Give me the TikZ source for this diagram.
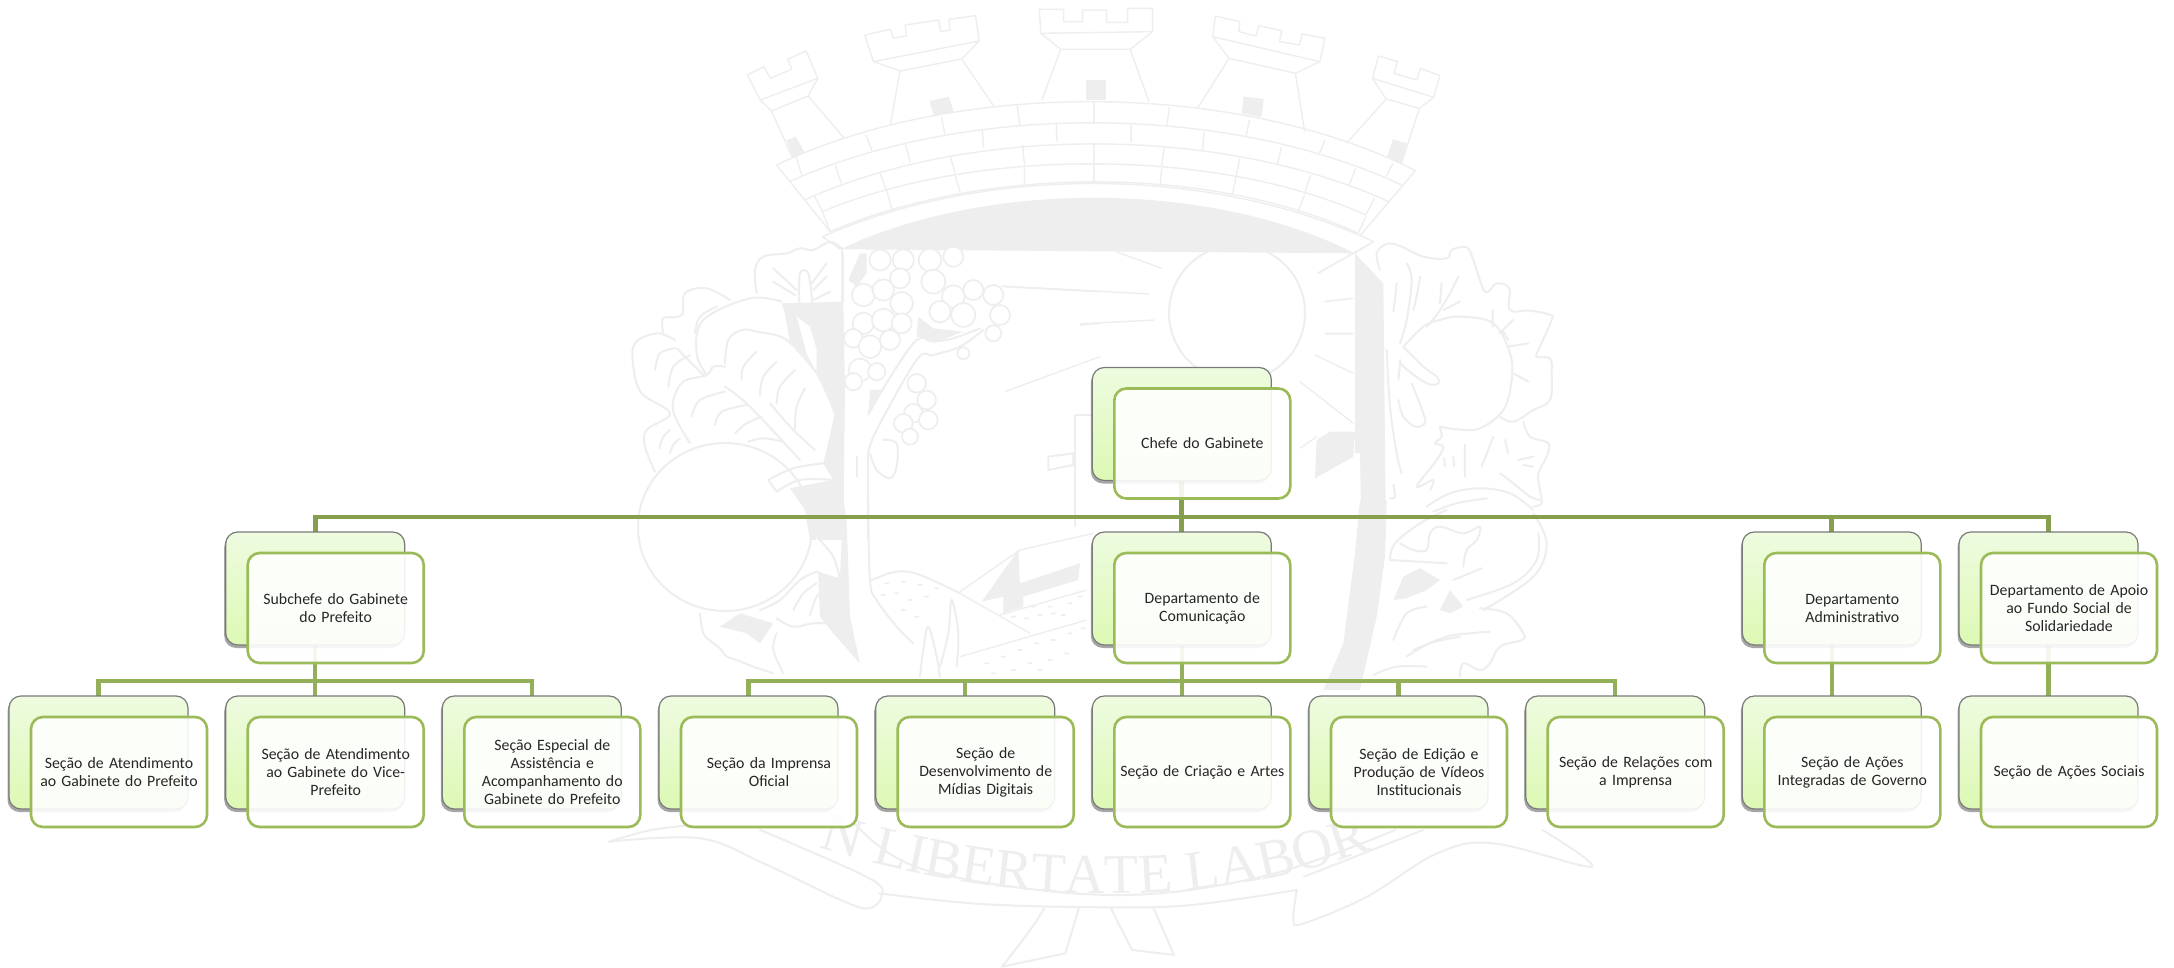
\documentclass[tikz,border=0pt]{standalone}
\usepackage{fontspec}
\setmainfont{Carlito}
\newfontfamily\wmfont{Liberation Serif}
\usetikzlibrary{shadows,decorations.text}
\definecolor{wm}{HTML}{EEEEEE}
\definecolor{busa}{HTML}{859F4D}
\definecolor{busb}{HTML}{93AF5A}
\definecolor{frameg}{HTML}{9BBB59}
\definecolor{backtop}{HTML}{EEFBE0}
\definecolor{backbot}{HTML}{DDF9B4}
\pgfdeclarelayer{wmlayer}
\pgfdeclarelayer{connlayer}
\pgfsetlayers{wmlayer,connlayer,main}
\tikzset{
  wml/.style={draw=wm,line width=2pt,line join=round,line cap=round},
  wmt/.style={draw=wm,line width=1.4pt,line join=round},
  wmf/.style={fill=wm,draw=none},
  sm/.style={smooth,tension=.6},
  backbox/.style={rectangle,rounded corners=12pt,minimum width=179pt,minimum height=113pt,
    draw=black!52,line width=1.2pt,top color=backtop,bottom color=backbot,outer sep=0pt,
    drop shadow={shadow xshift=-1.5pt,shadow yshift=-3pt,opacity=.35,fill=black}},
  frontbox/.style={rectangle,rounded corners=12pt,minimum width=176pt,minimum height=110pt,
    draw=frameg,line width=2.6pt,fill=white,fill opacity=.9,text opacity=1,outer sep=0pt,
    align=center,text width=170pt,font=\fontsize{15.8}{18}\selectfont,text=black!85,inner sep=2pt},
  busone/.style={draw=busa,line width=4.8pt,line join=miter},
  bustwo/.style={draw=busb,line width=4.4pt,line join=miter}
}
\newcommand{\orgbox}[4]{%
  \node[backbox] (#1) at (#2,#3) {};
  \node[frontbox] (#1f) at (#2+20.5,#3+19.5) {#4};}
\begin{document}
\begin{tikzpicture}[x=1pt,y=-1pt]
\useasboundingbox (0,0) rectangle (2174,968);
\begin{pgfonlayer}{wmlayer}
\fill[white] (0,0) rectangle (2174,968);
% ---- crown and arch
\begin{scope}[shift={(700,0)},x=.5102pt,y=-.3333pt]
\draw[wmt] (93,225)--(125,200)--(138,235)--(180,207)--(172,178)--(208,153)--(231,235)--(118,300)--cycle;
\draw[wmt] (118,300)--(140,333)--(212,288)--(231,235) (140,333)--(182,475) (212,288)--(283,415);
\fill[wmf] (170,420)--(188,410)--(205,458)--(182,475)--cycle;
\draw[wmt] (323,105)--(373,88)--(379,115)--(405,108)--(402,75)--(468,60)--(472,95)--(490,90)--(488,58)--(540,47)--(547,123)--(340,185)--cycle;
\draw[wmt] (340,185)--(392,213)--(513,177)--(547,123) (392,213)--(373,375) (513,177)--(575,317);
\fill[wmf] (450,303)--(488,290)--(497,335)--(458,348)--cycle;
\draw[wmt] (665,28)--(713,28)--(713,65)--(750,65)--(750,30)--(797,30)--(797,67)--(838,67)--(838,25)--(887,25)--(887,95)--(668,100)--cycle;
\draw[wmt] (668,100)--(707,148)--(843,148)--(887,95) (707,148)--(670,300) (843,148)--(880,305);
\fill[wmf] (757,240) rectangle (795,300);
\draw[wmt] (1010,48)--(1058,65)--(1056,95)--(1090,108)--(1095,77)--(1140,92)--(1136,125)--(1175,135)--(1180,102)--(1225,115)--(1215,185)--(1005,110)--cycle;
\draw[wmt] (1005,110)--(1037,175)--(1167,220)--(1215,185) (1037,175)--(975,325) (1167,220)--(1185,395);
\fill[wmf] (1065,290)--(1105,297)--(1100,352)--(1062,340)--cycle;
\draw[wmt] (1330,168)--(1367,185)--(1360,220)--(1405,240)--(1412,205)--(1450,227)--(1438,292)--(1318,235)--cycle;
\draw[wmt] (1318,235)--(1345,297)--(1410,325)--(1438,292) (1345,297)--(1267,430) (1410,325)--(1375,490);
\fill[wmf] (1358,418)--(1385,430)--(1375,490)--(1347,470)--cycle;
% arch rows
\draw[wmt] (150,495) .. controls (500,239) and (1050,239) .. (1402,512);
\draw[wmt] (175,545) .. controls (520,308) and (1030,308) .. (1375,555);
\draw[wmt] (205,600) .. controls (530,375) and (1020,375) .. (1350,605);
\draw[wmt] (240,635) .. controls (540,442) and (1010,442) .. (1305,645);
\draw[wmt] (255,695) .. controls (560,495) and (1000,495) .. (1290,700);
\draw[wmt] (240,710) .. controls (560,495) and (1000,495) .. (1320,725);
\fill[wmf] (275,748) .. controls (560,540) and (1000,540) .. (1283,760) -- cycle;
\draw[wmt] (240,710)--(275,748) (1320,725)--(1283,760) (150,495)--(255,695) (1402,512)--(1295,705);
\draw[wmt] (772,305)--(772,367) (622,315)--(627,375) (920,322)--(915,378) (473,350)--(480,403) (1077,360)--(1070,410) (325,405)--(337,452) (1225,420)--(1213,465) (188,470)--(200,527) (1358,490)--(1345,530);
\draw[wmt] (698,370)--(700,425) (845,375)--(845,428) (553,388)--(556,443) (988,395)--(985,450) (402,430)--(412,485) (1140,440)--(1132,492) (265,495)--(277,550) (1285,505)--(1272,558);
\draw[wmt] (772,430)--(772,490) (632,435)--(636,493) (910,440)--(905,497) (490,465)--(500,520) (1058,475)--(1050,535) (352,517)--(366,572) (1197,525)--(1185,580) (225,590)--(240,635) (1322,595)--(1305,645);
\draw[wmt] (636,495)--(636,552) (772,490)--(772,548) (905,505)--(902,555) (500,525)--(510,577) (1050,535)--(1043,590) (366,572)--(376,627) (1185,585)--(1172,635) (240,635)--(255,695) (1305,650)--(1290,700);
% sun rays
\draw[wmt] (815,755)--(905,805) (590,858)--(880,882) (745,972)--(890,960) (1225,905)--(1280,895) (1225,1000)--(1280,1000) (1210,820)--(1280,760);
\end{scope}
\begin{scope}
\clip (1100,253) rectangle (1400,400);
\draw[wml] (1237,313) circle[radius=68];
\end{scope}
% ---- left foliage
\begin{scope}[shift={(600,240)},x=.3333pt,y=-.3333pt]
\fill[wmf] (545,190)--(730,185)--(735,440)--(730,900)--(630,900)--(615,810)--(570,745)--(700,720)--(670,670)--(705,520)--(650,400)--(570,310)--(555,220)--cycle;
\fill[white] (590,230)--(630,260)--(650,330)--(650,400)--(620,340)--cycle;
\fill[wmf] (805,530)--(850,450)--(810,450)--cycle;
\fill[wmf] (955,230)--(1000,265)--(1090,275)--(1010,305)--(950,290)--cycle;
\fill[wmf] (780,40)--(800,40)--(800,100)--(770,140)--(745,120)--cycle;
\draw[wml] (730,40)--(730,185) (805,640)--(805,900);
\draw[wml] plot[sm] coordinates {(805,640)(830,570)(950,360)(1000,345)(1080,320)(1150,270)};
\draw[wml] plot[sm] coordinates {(805,520)(940,310)(1000,305)(1060,295)(1140,265)};
\draw[wml] plot[sm] coordinates {(470,160)(465,90)(490,50)(560,40)(600,25)(640,30)(690,5)(725,25)};
\draw[wml] (725,25)--(725,185) (770,650)--(770,710);
\draw[wml] plot[smooth cycle] coordinates {(600,100)(625,100)(635,195)(600,195)};
\draw[wml] (520,85)--(590,150) (520,125)--(585,165) (680,70)--(635,130) (680,110)--(640,150) (690,155)--(640,180);
\draw[wml] plot[sm] coordinates {(390,180)(320,145)(255,160)(245,225)(190,235)(190,280)};
\draw[wml] plot[sm] coordinates {(225,300)(170,280)(105,310)(100,380)(125,460)(210,520)(140,570)(135,620)(165,695)};
\draw[wml] plot[sm] coordinates {(165,390)(180,340)(225,325)};
\draw[wml] plot[sm] coordinates {(205,440)(220,380)(270,345)};
\draw[wml] (230,325)--(310,405);
\draw[wml] plot[sm] coordinates {(285,280)(300,230)(350,200)};
\draw[wml] plot[sm] coordinates {(320,405)(290,340)(310,240)(450,175)(545,185)};
\draw[wml] plot[sm] coordinates {(375,370)(385,300)(425,270)(470,275)(560,300)(650,400)(705,520)};
\draw[wml] plot[sm] coordinates {(375,380)(340,380)(320,405)(250,425)(220,480)(225,530)(270,610)};
\draw[wml] plot[sm] coordinates {(375,440)(450,500)(600,660)};
\draw[wml] plot[sm] coordinates {(510,490)(580,570)(645,630)};
\draw[wml] plot[sm] coordinates {(425,420)(430,380)(470,335)};
\draw[wml] plot[sm] coordinates {(480,465)(490,410)(530,365)};
\draw[wml] plot[sm] coordinates {(530,490)(540,440)(585,390)};
\draw[wml] plot[sm] coordinates {(585,565)(590,500)(615,445)};
\draw[wml] plot[sm] coordinates {(275,530)(300,480)(375,455)};
\draw[wml] plot[sm] coordinates {(345,555)(365,515)(440,495)};
\draw[wml] plot[sm] coordinates {(405,580)(440,550)(485,530)};
\draw[wml] plot[sm] coordinates {(445,605)(490,595)(550,605)};
\draw[wml] (505,720)--(530,755);
\draw[wml] plot[sm] coordinates {(505,720)(580,685)(670,670)};
\draw[wml] plot[sm] coordinates {(530,755)(600,720)(700,720)};
\draw[wml] plot[sm] coordinates {(178,625)(190,590)(210,570)};
\draw[wml] plot[sm] coordinates {(210,640)(220,615)(240,595)};
\foreach \a/\b/\r in {840/60/32,910/60/32,990/60/34,1060/50/30,1120/150/30,1180/165/30,900/115/30,1000/125/36,1060/170/34,1200/225/30,1020/215/32,1090/225/36,1180/280/24,790/165/34,850/150/32,905/190/34,790/250/32,850/240/34,905/250/30,760/295/28,810/320/34,870/300/30,780/390/34,830/395/26,760/425/26,950/430/28,980/480/28,940/520/28,985/540/28,910/550/28,930/590/24,1090/340/18}
  \filldraw[wml,line width=1.7pt,fill=white] (\a,\b) circle[radius=\r];
\draw[wml] plot[sm] coordinates {(850,600)(890,610)(890,680)(870,715)(830,690)(810,640)};
\draw[wmt] (1210,140)--(1500,155) (1440,255)--(1500,250) (1215,455)--(1500,350);
\draw[wmt] (1425,525)--(1425,860) (1425,525)--(1500,525);
\draw[wml] (1345,650)--(1420,640)--(1420,675)--(1345,690)--cycle;
\end{scope}
\draw[wml] (725,527) ellipse[x radius=87,y radius=84];
% ---- right foliage
\begin{scope}[shift={(1300,240)},x=.3333pt,y=-.3333pt]
\fill[wmf] (165,40)--(250,130)--(258,900)--(185,900)--(180,640)--(165,640)--cycle;
\fill[wmf] (45,715)--(50,600)--(90,575)--(165,575)--(160,650)--cycle;
\draw[wmt] (75,185)--(155,175) (75,282)--(160,282) (45,345)--(160,400) (0,425)--(160,550) (55,100)--(220,5) (0,625)--(50,590);
\draw[wml] plot[sm] coordinates {(240,90)(230,40)(260,12)(300,18)(370,50)(440,55)(455,30)(500,22)(520,60)(555,155)(590,130)(628,145)(630,210)(690,212)(752,225)(755,240)(720,320)(710,350)(750,355)(755,400)(750,480)(700,510)(640,545)(600,530)};
\draw[wml] plot[sm] coordinates {(310,320)(370,260)(420,240)(480,230)(580,250)(630,340)(635,420)(610,510)(540,565)(470,568)(420,560)};
\draw[wml] plot[sm] coordinates {(670,545)(690,590)(745,610)(740,650)(715,700)(720,750)(725,790)(700,800)};
\draw[wml] plot[sm] coordinates {(600,700)(640,730)(690,770)(720,780)};
\draw[wml] plot[sm] coordinates {(320,70)(335,120)(320,240)(300,310)};
\draw[wml] plot[sm] coordinates {(290,130)(285,180)(280,215)};
\draw[wml] plot[sm] coordinates {(360,110)(350,170)(340,210)};
\draw[wml] plot[sm] coordinates {(475,110)(450,160)(410,225)(380,260)};
\draw[wml] (425,130)--(420,190) (480,185)--(430,210) (578,210)--(578,260) (640,240)--(598,280) (610,275)--(625,300) (685,310)--(625,320) (640,400)--(685,425);
\draw[wml] plot[sm] coordinates {(310,320)(370,380)(410,410)(415,430)(380,430)(310,380)(300,360)};
\draw[wml] plot[sm] coordinates {(335,430)(370,520)(375,550)(345,560)(310,530)(295,480)};
\draw[wml] plot[sm] coordinates {(300,370)(295,420)};
\draw[wml] plot[sm] coordinates {(260,330)(270,500)(290,640)(305,700)};
\draw[wml] plot[sm] coordinates {(420,565)(425,590)(405,610)(430,620)(410,660)(350,740)(400,720)(390,750)};
\draw[wml] (432,655)--(435,680) (460,650)--(462,680) (495,615)--(495,710) (545,680)--(580,590) (615,600)--(625,640) (655,660)--(700,650) (670,675)--(700,680);
\draw[wml] plot[sm] coordinates {(280,735)(285,770)(270,775)};
\draw[wml] plot[sm] coordinates {(380,800)(450,760)(540,745)(630,760)(700,810)};
\draw[wml] plot[sm] coordinates {(400,815)(470,790)(560,775)};
\end{scope}
% ---- lower right sheaf
\begin{scope}[shift={(1280,500)},x=.3333pt,y=-.3333pt]
\fill[wmf] (240,0)--(320,0)--(315,170)--(290,350)--(240,570)--(130,570)--(190,430)--(225,160)--cycle;
\fill[wmf] (340,300)--(370,230)--(420,205)--(480,240)--(440,270)--(380,295)--cycle;
\fill[wmf] (480,330)--(510,270)--(550,320)--(510,340)--cycle;
\draw[wml] plot[sm] coordinates {(330,180)(345,130)(420,70)(500,30)};
\draw[wml] (330,180)--(500,190);
\draw[wml] plot[sm] coordinates {(360,130)(400,150)(440,150)(450,100)(480,80)(550,100)(600,80)(590,120)(560,150)(550,200)};
\draw[wml] plot[sm] coordinates {(760,40)(800,130)(760,230)(610,330)};
\draw[wml] plot[sm] coordinates {(560,300)(700,250)(770,180)(775,100)};
\draw[wml] (520,240)--(605,205);
\draw[wml] plot[sm] coordinates {(600,325)(680,340)(730,400)(725,420)(660,440)(630,490)(600,510)(550,490)(540,530)};
\draw[wml] plot[sm] coordinates {(400,450)(500,410)(570,400)(630,395)};
\draw[wml] plot[sm] coordinates {(380,470)(450,430)(540,410)};
\draw[wml] plot[sm] coordinates {(280,525)(350,500)(440,500)};
\draw[wml] plot[sm] coordinates {(340,420)(380,340)(440,320)};
\end{scope}
% ---- lower centre, mountains
\begin{scope}[shift={(620,500)},x=.3333pt,y=-.3333pt]
\fill[wmf] (670,0)--(680,60)--(690,350)--(720,490)--(640,400)--(600,350)--(590,110)--(640,170)--(660,240)--cycle;
\fill[white] (590,110)--(630,150)--(660,235)--(580,210)--cycle;
\fill[wmf] (300,380)--(360,340)--(460,370)--(420,430)--(380,400)--cycle;
\draw[wml] plot[sm] coordinates {(745,0)(750,240)(770,300)(830,380)(880,430)};
\draw[wml] plot[sm] coordinates {(240,340)(250,400)(280,430)(300,445)(320,470)(350,480)(400,500)(460,520)};
\draw[wml] plot[sm] coordinates {(420,330)(480,300)(540,240)(590,215)};
\draw[wml] (590,215)--(660,245);
\draw[wml] plot[sm] coordinates {(660,245)(680,360)(650,370)(580,370)(520,380)(470,355)};
\draw[wml] plot[sm] coordinates {(590,110)(640,170)(660,240)};
\draw[wml] plot[sm] coordinates {(520,330)(550,280)(590,250)};
\draw[wml] plot[sm] coordinates {(570,345)(590,290)(620,260)};
\draw[wml] plot[sm] coordinates {(470,400)(460,450)(490,520)};
\draw[wml] plot[sm] coordinates {(755,240)(830,215)(900,225)(1020,280)};
\draw[wmt] (1020,275)--(1200,150)--(1420,100) (1020,280)--(1230,400) (1020,470)--(1400,360) (1140,345)--(1400,270);
\fill[wmf] (1085,305)--(1195,150)--(1200,250)--(1380,190)--(1375,240)--(1210,290)--(1210,320)--(1150,340)--(1150,290)--cycle;
\draw[wml] plot[sm] coordinates {(900,530)(910,450)(925,380)(950,470)(960,530)};
\draw[wml] plot[sm] coordinates {(960,500)(985,400)(995,300)(1015,400)(1010,500)};
\foreach \a/\b in {800/250,850/245,900/255,950/265,790/285,830/280,870/300,920/290,850/330,890/350,1180/350,1220/355,1260/345,1300/340,1350/310,1290/320,1240/320,1330/345,1380/290,1100/490,1150/470,1200/450,1250/430,1300/420,1350/400,1390/385,1180/510,1230/490,1290/480,1340/460,1120/520,1260/510}
  \fill[wm] (\a,\b) ellipse[x radius=8,y radius=3];
\end{scope}
% ---- ribbon
\begin{scope}[shift={(560,780)},x=.7018pt,y=-.3333pt]
\draw[wml] plot[sm] coordinates {(70,185)(130,150)(190,135)};
\draw[wml] plot[sm] coordinates {(70,185)(200,175)(290,250)(400,360)(440,385)(458,350)(445,300)(330,190)(285,150)};
\draw[wml] plot[sm] coordinates {(455,340)(600,372)(780,382)(900,375)(1050,330)};
\draw[wml] plot[sm] coordinates {(420,130)(520,270)(780,345)(1000,290)(1190,150)};
\draw[wml] plot[sm] coordinates {(1050,330)(1045,420)(1060,430)(1150,350)(1250,220)(1330,190)(1470,260)(1400,150)};
\draw[wml] plot[sm] coordinates {(1060,290)(1230,150)};
\draw[wml] plot[sm] coordinates {(690,385)(670,450)(630,560)};
\draw[wml] (630,560)--(720,520)--(740,380) (785,385)--(815,510)--(875,525)--(845,380);
\end{scope}
\coordinate (rs) at (790,838);
\coordinate (re) at (1400,838);
\path[decorate,decoration={text along path,text align=center,
  text={|\wmfont\fontsize{56}{56}\selectfont\color{wm}|N LIBERTATE LABOR}}]
  (rs) .. controls (1000,912) and (1230,912) .. (re);
\end{pgfonlayer}
% ---- org chart boxes
\orgbox{chefe}{1181.8}{424}{Chefe do Gabinete}
\orgbox{sub}{315.2}{588.5}{Subchefe do Gabinete\\do Prefeito}
\orgbox{com}{1181.8}{588.5}{Departamento de\\Comunicação}
\orgbox{adm}{1831.8}{588.5}{Departamento\\Administrativo}
\orgbox{apo}{2048.5}{588.5}{Departamento de Apoio\\ao Fundo Social de\\Solidariedade}
\orgbox{s0}{98.5}{752.5}{Seção de Atendimento\\ao Gabinete do Prefeito}
\orgbox{s1}{315.2}{752.5}{Seção de Atendimento\\ao Gabinete do Vice-\\Prefeito}
\orgbox{s2}{531.8}{752.5}{Seção Especial de\\Assistência e\\Acompanhamento do\\Gabinete do Prefeito}
\orgbox{s3}{748.5}{752.5}{Seção da Imprensa\\Oficial}
\orgbox{s4}{965.2}{752.5}{Seção de\\Desenvolvimento de\\Mídias Digitais}
\orgbox{s5}{1181.8}{752.5}{Seção de Criação e Artes}
\orgbox{s6}{1398.5}{752.5}{Seção de Edição e\\Produção de Vídeos\\Institucionais}
\orgbox{s7}{1615.2}{752.5}{Seção de Relações com\\a Imprensa}
\orgbox{s8}{1831.8}{752.5}{Seção de Ações\\Integradas de Governo}
\orgbox{s9}{2048.5}{752.5}{Seção de Ações Sociais}
% ---- connectors
\coordinate (busA) at (0,517);
\coordinate (busB) at (0,681);
\begin{pgfonlayer}{connlayer}
\foreach \c in {sub,com,adm,apo}
  \draw[busone] (chefe.south) -- (chefe.south |- busA) -| (\c.north);
\foreach \c in {s0,s1,s2}
  \draw[bustwo] (sub.south) -- (sub.south |- busB) -| (\c.north);
\foreach \c in {s3,s4,s5,s6,s7}
  \draw[bustwo] (com.south) -- (com.south |- busB) -| (\c.north);
\draw[bustwo] (adm.south) -- (s8.north);
\draw[bustwo] (apo.south) -- (s9.north);
\end{pgfonlayer}
\end{tikzpicture}
\end{document}
